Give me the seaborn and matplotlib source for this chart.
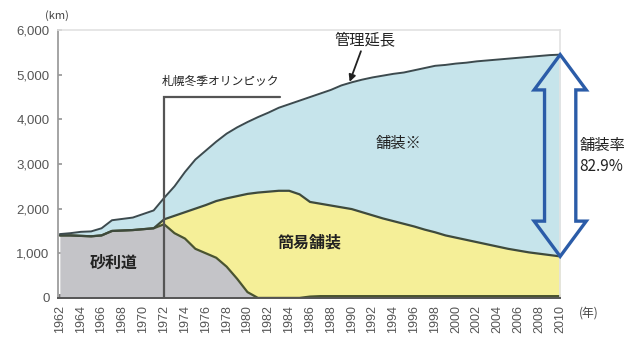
import numpy as np
import pandas as pd
import matplotlib
matplotlib.use("Agg")
import matplotlib.pyplot as plt
import seaborn as sns
from matplotlib.patches import Polygon
from matplotlib.ticker import MultipleLocator, FuncFormatter

# 年次
years = list(range(1962, 2011))

# 管理延長 (km)
total = [1430, 1450, 1480, 1490, 1560, 1740, 1770, 1800, 1880, 1960,
         2240, 2500, 2820, 3100, 3300, 3500, 3680, 3820, 3940, 4050,
         4150, 4260, 4340, 4420, 4500, 4580, 4660, 4760, 4830, 4890,
         4940, 4980, 5020, 5050, 5100, 5150, 5200, 5220, 5250, 5270,
         5300, 5320, 5340, 5360, 5380, 5400, 5420, 5440, 5450]

# 未舗装（砂利道＋簡易舗装）の上端 (km)
unpaved = [1400, 1400, 1390, 1380, 1400, 1500, 1510, 1520, 1540, 1560,
           1760, 1840, 1920, 2000, 2080, 2170, 2230, 2280, 2330, 2360,
           2380, 2400, 2400, 2320, 2150, 2110, 2070, 2030, 1990, 1920,
           1850, 1780, 1720, 1660, 1600, 1530, 1470, 1400, 1350, 1300,
           1250, 1200, 1150, 1100, 1060, 1020, 990, 960, 930]

# 砂利道 (km)
gravel = [1400, 1400, 1390, 1380, 1400, 1500, 1510, 1520, 1540, 1560,
          1650, 1450, 1330, 1100, 1000, 900, 700, 430, 130, 0,
          0, 0, 0, 0, 30, 40, 40, 40, 40, 40,
          40, 40, 40, 40, 40, 40, 40, 40, 40, 40,
          40, 40, 40, 40, 40, 40, 40, 40, 40]

olympic_year = 1972
paved_rate = "82.9%"

df = pd.DataFrame({"年": years, "管理延長": total, "未舗装": unpaved, "砂利道": gravel})

sns.set_theme(style="white")
plt.rcParams["font.family"] = ["Noto Sans CJK JP", "DejaVu Sans"]

fig = plt.figure(figsize=(6.28, 3.46), dpi=100)
ax = fig.add_axes([0.092, 0.139, 0.8, 0.774])

ax.fill_between(df["年"], 0, df["砂利道"], color="#c4c4c8", lw=0)
ax.fill_between(df["年"], df["砂利道"], df["未舗装"], color="#f5ef98", lw=0)
ax.fill_between(df["年"], df["未舗装"], df["管理延長"], color="#c6e4eb", lw=0)

sns.lineplot(data=df, x="年", y="砂利道", ax=ax, color="#4a5430", lw=1.6)
sns.lineplot(data=df, x="年", y="未舗装", ax=ax, color="#3e4a3c", lw=1.6)
sns.lineplot(data=df, x="年", y="管理延長", ax=ax, color="#3c4a4e", lw=1.4)

ax.set_xlim(1961.8, 2010)
ax.set_ylim(0, 6000)
ax.set_xlabel("")
ax.set_ylabel("")

ax.xaxis.set_major_locator(MultipleLocator(2))
ax.xaxis.set_minor_locator(MultipleLocator(1))
ax.yaxis.set_major_locator(MultipleLocator(1000))
ax.yaxis.set_major_formatter(FuncFormatter(lambda v, p: f"{int(v):,}"))
ax.tick_params(axis="x", which="both", direction="in", length=3, color="#666666",
               labelsize=9, labelcolor="#555555", labelrotation=90, bottom=True, pad=5)
ax.tick_params(axis="y", which="major", direction="in", length=3, color="#999999",
               labelsize=9.5, labelcolor="#555555", left=True, pad=6)
for lab in ax.get_xticklabels() + ax.get_yticklabels():
    lab.set_family(["Liberation Sans", "DejaVu Sans"])

for side in ["top", "right"]:
    ax.spines[side].set_color("#e2e2e2")
    ax.spines[side].set_linewidth(1.2)
ax.spines["left"].set_color("#999999")
ax.spines["bottom"].set_color("#555555")
ax.spines["bottom"].set_linewidth(1.4)

# 札幌冬季オリンピック
ax.plot([olympic_year, olympic_year, 1983.1], [0, 4490, 4490], color="#555555", lw=1.6,
        solid_joinstyle="miter")
ax.text(olympic_year - 0.2, 4700, "札幌冬季オリンピック", fontsize=8.5, color="#222222",
        ha="left", va="bottom")

# 管理延長の注記
ax.annotate("管理延長", xy=(1989.8, 4840), xytext=(1991.3, 5600),
            fontsize=11, color="#222222", ha="center", va="bottom",
            arrowprops=dict(arrowstyle="-|>", color="#222222", lw=1.3,
                            mutation_scale=10, shrinkA=0, shrinkB=0))

ax.text(1994.5, 3460, "舗装※", fontsize=11, color="#222222", ha="center", va="center")
ax.text(1986.0, 1250, "簡易舗装", fontsize=11.5, color="#222222", ha="center", va="center",
        fontweight="bold")
ax.text(1967.2, 790, "砂利道", fontsize=11.5, color="#222222", ha="center", va="center",
        fontweight="bold")

# 舗装率の両矢印
xc = years[-1]
top = total[-1]
bot = unpaved[-1]
hw, sw, hl = 2.5, 1.5, 790
arrow_pts = [(xc, top), (xc + hw, top - hl), (xc + sw, top - hl), (xc + sw, bot + hl),
             (xc + hw, bot + hl), (xc, bot), (xc - hw, bot + hl), (xc - sw, bot + hl),
             (xc - sw, top - hl), (xc - hw, top - hl)]
ax.add_patch(Polygon(arrow_pts, closed=True, fill=False, edgecolor="#2b5ca8", lw=2.4,
                     joinstyle="miter", clip_on=False, zorder=5))

fig.text(0.923, 0.55, "舗装率\n" + paved_rate, fontsize=11, color="#222222",
         ha="left", va="center", linespacing=1.3)
fig.text(0.072, 0.955, "(km)", fontsize=8, color="#444444", ha="left", va="center")
fig.text(0.922, 0.095, "(年)", fontsize=8.5, color="#444444", ha="left", va="center")

fig.savefig("out.png", dpi=100)
